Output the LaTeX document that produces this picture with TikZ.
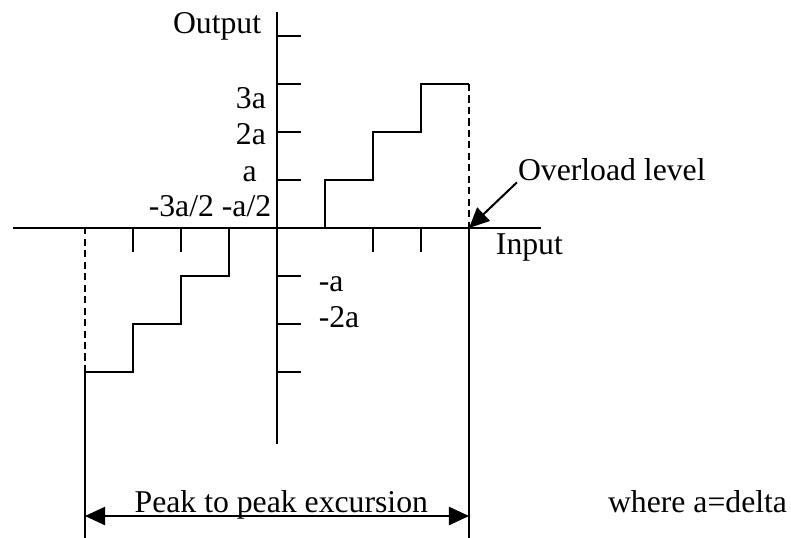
\documentclass[tikz,border=0pt]{standalone}
\usepackage{fontspec}
\setmainfont{Liberation Serif}
\usetikzlibrary{arrows.meta, positioning}

\begin{document}
\begin{tikzpicture}[line width=1.2pt, font=\fontsize{18.8}{22}\selectfont,
    lbl/.style={inner sep=0pt},
    guide/.style={dash pattern=on 4.2pt off 2.6pt},
    bigtip/.tip={Triangle[length=0.42cm, width=0.38cm]}]

            \useasboundingbox (-5.771,-6.458) rectangle (10.708,4.75);

            % Définitions des axes
            \coordinate (O) at (0,0);
            \coordinate (xl) at (-5.5,0);
            \coordinate (xr) at (5.5,0);
            \coordinate (yt) at (0,4.5);
            \coordinate (yb) at (0,-4.5);
            \draw (xl) -- (xr);
            \draw (yt) -- (yb);
            \foreach \k in {-3,-2,-1,1,2,3,4} \draw (0,\k) -- ++(0.5,0);
            \foreach \k in {-3,-2,2,3} \draw (\k,0) -- ++(0,-0.5);

            % Définition des marches
            \draw (O) -| (1,1) -| (2,2) -| (3,3) -- (4,3) coordinate (top);
            \draw (-1,0) |- (-2,-1) |- (-3,-2) |- (-4,-3) coordinate (bot);
            \coordinate (ovr) at (4,0);
            \coordinate (ovl) at (-4,0);
            \coordinate (endr) at (4,-6.458);
            \coordinate (endl) at (-4,-6.458);
            \draw[guide] (top) -- (ovr);
            \draw[guide] (bot) -- (ovl);
            \draw (ovr) -- (endr);
            \draw (bot) -- (endl);

            % Définitions des textes
            \node[lbl, anchor=base east] (out) at (-0.31,4.06) {Output};
            \node[lbl, anchor=base east] (l3) at (-0.21,2.5) {3a};
            \node[lbl, anchor=base east] (l2) at (-0.21,1.75) {2a};
            \node[lbl, anchor=base east] (l1) at (-0.4,0.96) {a};
            \node[lbl, anchor=base east] (lh) at (-0.1,0.23) {-3a/2 -a/2};
            \node[lbl, anchor=base west] (m1) at (0.85,-1.33) {-a};
            \node[lbl, anchor=base west] (m2) at (0.85,-2.08) {-2a};
            \node[lbl, anchor=base west] (in) at (4.54,-0.56) {Input};
            \node[lbl, anchor=base west] (ovtxt) at (5.0,0.98) {Overload level};
            \node[lbl, anchor=base] (peak) at (0.09,-5.92) {Peak to peak excursion};
            \node[lbl, anchor=base west] (delta) at (6.875,-5.92) {where a=delta};

            % Définition des flèches
            \coordinate (pl) at (-4,-6);
            \coordinate (pr) at (4,-6);
            \draw[-bigtip] (ovtxt.south west) -- (ovr);
            \draw[bigtip-bigtip] (pl) -- (pr);

\end{tikzpicture}
\end{document}
